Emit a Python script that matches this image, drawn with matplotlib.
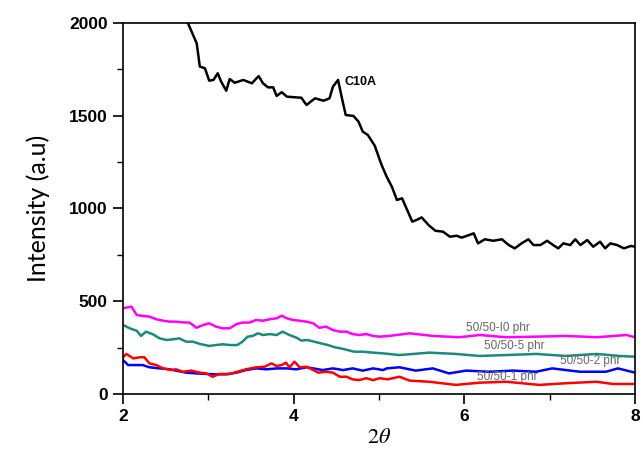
import matplotlib
matplotlib.use("Agg")
import matplotlib.pyplot as plt
from matplotlib.ticker import MultipleLocator

plt.rcParams["mathtext.fontset"] = "stix"

# C10A
x_c10a = [2.70, 2.765, 2.864, 2.90, 2.96, 3.01, 3.06, 3.11, 3.15, 3.21, 3.25, 3.31, 3.41, 3.51,
          3.59, 3.64, 3.70, 3.76, 3.80, 3.86, 3.92, 4.00, 4.09, 4.15, 4.25, 4.35, 4.42, 4.46,
          4.52, 4.57, 4.61, 4.70, 4.76, 4.81, 4.87, 4.95, 5.03, 5.09, 5.15, 5.21, 5.27, 5.33,
          5.39, 5.44, 5.50, 5.58, 5.66, 5.75, 5.83, 5.91, 5.97, 6.11, 6.16, 6.24, 6.34, 6.44,
          6.52, 6.59, 6.67, 6.75, 6.81, 6.89, 6.97, 7.04, 7.10, 7.16, 7.24, 7.30, 7.36, 7.44,
          7.51, 7.59, 7.65, 7.71, 7.79, 7.87, 7.95, 8.00]
y_c10a = [2150, 1995, 1890, 1765, 1756, 1689, 1693, 1729, 1684, 1635, 1698, 1678, 1693, 1675,
          1714, 1675, 1653, 1653, 1607, 1627, 1603, 1600, 1597, 1558, 1594, 1581, 1594, 1657,
          1693, 1585, 1504, 1499, 1468, 1414, 1396, 1338, 1235, 1171, 1118, 1046, 1055, 992,
          929, 938, 952, 911, 880, 875, 848, 853, 843, 866, 812, 834, 826, 834,
          803, 785, 812, 834, 803, 803, 826, 803, 785, 812, 803, 834, 803, 830,
          794, 821, 785, 812, 803, 785, 798, 794]

# 50/50-10 phr
x_10 = [2.00, 2.10, 2.16, 2.23, 2.31, 2.39, 2.47, 2.55, 2.62, 2.70, 2.78, 2.86, 2.94, 3.01,
        3.09, 3.17, 3.25, 3.33, 3.40, 3.48, 3.56, 3.64, 3.72, 3.80, 3.86, 3.92, 3.99, 4.07,
        4.15, 4.23, 4.30, 4.38, 4.46, 4.54, 4.62, 4.69, 4.77, 4.85, 4.93, 5.01, 5.12, 5.36,
        5.63, 5.94, 6.18, 6.49, 6.84, 7.19, 7.55, 7.90, 8.00]
y_10 = [462, 471, 426, 421, 417, 403, 395, 390, 390, 386, 385, 357, 372, 381,
        363, 354, 354, 377, 385, 385, 399, 395, 403, 408, 422, 408, 399, 395,
        390, 381, 357, 363, 345, 336, 336, 323, 318, 323, 313, 309, 313, 327,
        313, 306, 318, 306, 309, 313, 306, 318, 306]

# 50/50-5 phr
x_5 = [2.00, 2.08, 2.16, 2.21, 2.27, 2.35, 2.43, 2.51, 2.59, 2.66, 2.74, 2.82, 2.90, 3.01,
       3.09, 3.17, 3.25, 3.34, 3.40, 3.46, 3.52, 3.58, 3.64, 3.72, 3.80, 3.87, 3.95, 4.03,
       4.09, 4.16, 4.24, 4.32, 4.40, 4.48, 4.55, 4.63, 4.71, 4.81, 4.93, 5.05, 5.24, 5.59,
       5.90, 6.18, 6.49, 6.84, 7.19, 7.55, 7.82, 8.00]
y_5 = [372, 354, 341, 313, 336, 322, 300, 291, 295, 300, 282, 282, 270, 259,
       264, 268, 264, 264, 282, 309, 313, 327, 318, 323, 318, 336, 318, 304,
       288, 291, 282, 273, 264, 252, 246, 237, 228, 228, 223, 219, 210, 223,
       216, 205, 210, 216, 205, 216, 205, 201]

# 50/50-2 phr
x_2 = [2.00, 2.06, 2.16, 2.23, 2.31, 2.43, 2.55, 2.62, 2.74, 2.86, 2.98, 3.09, 3.21, 3.33,
       3.44, 3.56, 3.68, 3.80, 3.92, 4.03, 4.15, 4.23, 4.34, 4.46, 4.58, 4.69, 4.81, 4.93,
       5.05, 5.09, 5.24, 5.43, 5.63, 5.82, 6.02, 6.29, 6.57, 6.84, 7.03, 7.35, 7.66, 7.80, 8.00]
y_2 = [183, 156, 156, 156, 144, 138, 133, 126, 115, 111, 108, 106, 106, 115,
       129, 138, 133, 138, 138, 133, 144, 138, 129, 138, 129, 138, 126, 138,
       129, 138, 144, 126, 138, 111, 126, 120, 126, 120, 138, 120, 120, 138, 115]

# 50/50-1 phr
x_1 = [2.00, 2.04, 2.12, 2.20, 2.25, 2.31, 2.39, 2.47, 2.57, 2.62, 2.70, 2.80, 2.90, 2.98,
       3.05, 3.13, 3.25, 3.34, 3.44, 3.56, 3.66, 3.74, 3.80, 3.86, 3.91, 3.95, 4.01, 4.07,
       4.15, 4.23, 4.29, 4.38, 4.46, 4.54, 4.62, 4.69, 4.77, 4.85, 4.93, 5.01, 5.10, 5.24,
       5.36, 5.59, 5.90, 6.18, 6.49, 6.88, 7.19, 7.55, 7.74, 8.00]
y_1 = [198, 216, 192, 198, 198, 165, 156, 138, 129, 133, 120, 126, 115, 111,
       93, 108, 108, 120, 133, 144, 147, 165, 151, 156, 169, 144, 174, 144,
       147, 129, 115, 120, 115, 93, 93, 79, 75, 85, 75, 85, 79, 93,
       72, 66, 49, 61, 66, 49, 58, 66, 54, 54]

fig = plt.figure(figsize=(6.43, 4.51), dpi=100)
ax = fig.add_axes([0.1913, 0.1264, 0.7963, 0.8226])

ax.plot(x_c10a, y_c10a, color="black", lw=1.8)
ax.plot(x_10, y_10, color="#ff00ff", lw=1.8)
ax.plot(x_5, y_5, color="#1a8a7a", lw=1.8)
ax.plot(x_2, y_2, color="#0000ff", lw=1.8)
ax.plot(x_1, y_1, color="#ff0000", lw=1.8)

ax.text(4.60, 1680, "C10A", fontsize=9, fontweight="bold", va="center", family="Liberation Sans")
lab = dict(fontsize=8.5, color="#666666", ha="center", va="center", family="Liberation Sans")
ax.text(6.39, 356, "50/50-I0 phr", **lab)
ax.text(6.59, 260, "50/50-5 phr", **lab)
ax.text(7.48, 178, "50/50-2 phr", **lab)
ax.text(6.50, 93, "50/50-1 phr", **lab)

ax.set_xlim(2, 8)
ax.set_ylim(0, 2000)
ax.xaxis.set_major_locator(MultipleLocator(2))
ax.xaxis.set_minor_locator(MultipleLocator(1))
ax.yaxis.set_major_locator(MultipleLocator(500))
ax.yaxis.set_minor_locator(MultipleLocator(250))
ax.tick_params(which="major", direction="out", length=7, width=1.2, pad=4)
ax.tick_params(which="minor", direction="out", length=4, width=1)
for lbl in ax.get_xticklabels() + ax.get_yticklabels():
    lbl.set_fontweight("bold")
    lbl.set_fontsize(12.5)
    lbl.set_family("Liberation Sans")
for s in ax.spines.values():
    s.set_linewidth(1.2)

ax.set_ylabel("Intensity (a.u)", fontsize=18, family="Lato", labelpad=14)
ax.set_xlabel(r"$2\theta$", fontsize=16, labelpad=2)

fig.savefig("out.png", dpi=100)
